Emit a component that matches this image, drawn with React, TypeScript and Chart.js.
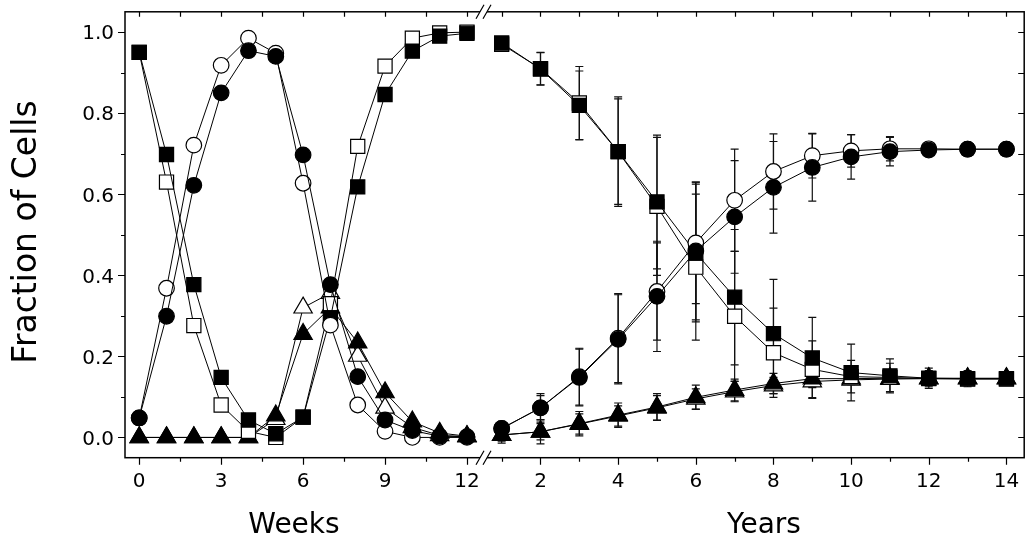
import { useEffect, useRef } from 'react';
import { Chart, registerables } from 'chart.js';

Chart.register(...registerables);

// ---- categories ----
const WEEKS = [0, 1, 2, 3, 4, 5, 6, 7, 8, 9, 10, 11, 12];
const YEARS = [1, 2, 3, 4, 5, 6, 7, 8, 9, 10, 11, 12, 13, 14];

// ---- series: weeks segment ----
const filledSquareWeeks = [0.95, 0.698, 0.377, 0.148, 0.043, 0.009, 0.05, 0.295, 0.618, 0.846, 0.953, 0.99, 0.997];
const openSquareWeeks = [0.95, 0.63, 0.276, 0.08, 0.015, 0.0, 0.05, 0.33, 0.718, 0.916, 0.985, 0.998, 1.0];
const filledCircleWeeks = [0.048, 0.299, 0.622, 0.85, 0.954, 0.94, 0.697, 0.377, 0.15, 0.043, 0.017, 0.003, 0.002];
const openCircleWeeks = [0.048, 0.368, 0.721, 0.918, 0.985, 0.948, 0.627, 0.277, 0.08, 0.015, 0.0, 0.0, 0.0];
const filledTriangleWeeks = [0, 0, 0, 0, 0, 0.054, 0.255, 0.32, 0.234, 0.111, 0.039, 0.011, 0.003];
const openTriangleWeeks = [0, 0, 0, 0, 0, 0.045, 0.32, 0.356, 0.201, 0.073, 0.025, 0.005, 0.002];

// ---- series: years segment ----
const filledSquareYears = [0.973, 0.909, 0.819, 0.705, 0.581, 0.455, 0.346, 0.256, 0.196, 0.16, 0.152, 0.146, 0.145, 0.145];
const openSquareYears = [0.97, 0.91, 0.825, 0.705, 0.57, 0.42, 0.299, 0.209, 0.168, 0.15, 0.148, 0.145, 0.144, 0.144];
const filledCircleYears = [0.022, 0.073, 0.148, 0.242, 0.348, 0.46, 0.544, 0.617, 0.666, 0.692, 0.705, 0.709, 0.711, 0.711];
const openCircleYears = [0.022, 0.073, 0.15, 0.245, 0.36, 0.48, 0.585, 0.656, 0.695, 0.707, 0.712, 0.712, 0.711, 0.711];
const filledTriangleYears = [0.006, 0.014, 0.034, 0.055, 0.075, 0.099, 0.117, 0.133, 0.145, 0.145, 0.146, 0.146, 0.146, 0.146];
const openTriangleYears = [0.006, 0.014, 0.033, 0.053, 0.073, 0.095, 0.113, 0.128, 0.138, 0.142, 0.144, 0.145, 0.145, 0.145];

// ---- error bars (years segment) ----
const filledSquareErr = [0.01, 0.04, 0.085, 0.135, 0.165, 0.17, 0.167, 0.134, 0.1, 0.07, 0.042, 0.025, 0.02, 0.01];
const openSquareErr = [0.01, 0.04, 0.09, 0.13, 0.17, 0.18, 0.16, 0.11, 0.07, 0.04, 0.035, 0.02, 0.015, 0.01];
const filledCircleErr = [0.01, 0.035, 0.07, 0.11, 0.136, 0.17, 0.139, 0.113, 0.083, 0.055, 0.035, 0.01, 0.005, 0.005];
const openCircleErr = [0.01, 0.03, 0.07, 0.11, 0.12, 0.15, 0.126, 0.093, 0.055, 0.04, 0.03, 0.01, 0.005, 0.005];
const filledTriangleErr = [0.02, 0.03, 0.03, 0.03, 0.033, 0.03, 0.027, 0.025, 0.02, 0.015, 0.01, 0.01, 0.008, 0.005];
const openTriangleErr = [0.015, 0.02, 0.025, 0.025, 0.03, 0.025, 0.025, 0.02, 0.015, 0.01, 0.01, 0.008, 0.005, 0.005];

// ---- ticks ----
const weekTicks = [0, 1.5, 3, 4.5, 6, 7.5, 9, 10.5, 12];
const weekLabels = [0, 3, 6, 9, 12];
const yearTicks = [1, 2, 3, 4, 5, 6, 7, 8, 9, 10, 11, 12, 13, 14];
const yearLabels = [2, 4, 6, 8, 10, 12, 14];
const yTicks = [0, 0.1, 0.2, 0.3, 0.4, 0.5, 0.6, 0.7, 0.8, 0.9, 1.0];
const yLabels = [0, 0.2, 0.4, 0.6, 0.8, 1.0];

// broken axis: years segment placed after the weeks segment
const YEAR_START = 13.27;
const YEAR_STEP = 1.4215;
const BREAK_X = 12.66;
const yearToX = (yr: number) => YEAR_START + (yr - 1) * YEAR_STEP;

const FONT = '"DejaVu Sans", Verdana, sans-serif';

type Series = {
  weeks: number[];
  years: number[];
  err: number[];
  style: 'rect' | 'circle' | 'triangle';
  filled: boolean;
  order: number;
};

const SERIES: Series[] = [
  { weeks: filledCircleWeeks, years: filledCircleYears, err: filledCircleErr, style: 'circle', filled: true, order: 0 },
  { weeks: openCircleWeeks, years: openCircleYears, err: openCircleErr, style: 'circle', filled: false, order: 1 },
  { weeks: filledSquareWeeks, years: filledSquareYears, err: filledSquareErr, style: 'rect', filled: true, order: 2 },
  { weeks: openSquareWeeks, years: openSquareYears, err: openSquareErr, style: 'rect', filled: false, order: 3 },
  { weeks: filledTriangleWeeks, years: filledTriangleYears, err: filledTriangleErr, style: 'triangle', filled: true, order: 4 },
  { weeks: openTriangleWeeks, years: openTriangleYears, err: openTriangleErr, style: 'triangle', filled: false, order: 5 },
];

const radiusFor = (s: string) => (s === 'rect' ? 10 : s === 'circle' ? 7.8 : 10.6);

const framePlugin = {
  id: 'framePlugin',
  beforeDatasetsDraw(chart: any) {
    const ctx = chart.ctx;
    const xs = chart.scales.x;
    const ys = chart.scales.y;
    ctx.save();
    ctx.strokeStyle = '#111';
    ctx.lineWidth = 1.2;
    SERIES.forEach((s) => {
      YEARS.forEach((yr, i) => {
        const e = s.err[i];
        if (!e) return;
        const px = xs.getPixelForValue(yearToX(yr));
        const top = ys.getPixelForValue(s.years[i] + e);
        const bot = ys.getPixelForValue(s.years[i] - e);
        ctx.beginPath();
        ctx.moveTo(px, top);
        ctx.lineTo(px, bot);
        ctx.moveTo(px - 4, top);
        ctx.lineTo(px + 4, top);
        ctx.moveTo(px - 4, bot);
        ctx.lineTo(px + 4, bot);
        ctx.stroke();
      });
    });
    ctx.restore();
  },
  afterDraw(chart: any) {
    const ctx = chart.ctx;
    const { left, right, top, bottom } = chart.chartArea;
    const xs = chart.scales.x;
    const ys = chart.scales.y;
    ctx.save();
    ctx.strokeStyle = '#000';
    ctx.fillStyle = '#000';
    ctx.lineWidth = 1.5;
    ctx.strokeRect(left, top, right - left, bottom - top);

    ctx.lineWidth = 1.2;
    // x ticks
    const xTickList: { v: number; major: boolean }[] = [];
    weekTicks.forEach((w) => xTickList.push({ v: w, major: weekLabels.includes(w) }));
    yearTicks.forEach((yr) => xTickList.push({ v: yearToX(yr), major: yearLabels.includes(yr) }));
    xTickList.forEach(({ v, major }) => {
      const px = Math.round(xs.getPixelForValue(v)) + 0.5;
      ctx.beginPath();
      ctx.moveTo(px, bottom);
      ctx.lineTo(px, bottom + (major ? 7 : 4));
      ctx.moveTo(px, top);
      ctx.lineTo(px, top + 5);
      ctx.stroke();
    });
    // y ticks
    yTicks.forEach((v) => {
      const major = yLabels.some((l) => Math.abs(l - v) < 1e-6);
      const py = Math.round(ys.getPixelForValue(v)) + 0.5;
      ctx.beginPath();
      ctx.moveTo(left, py);
      ctx.lineTo(left - (major ? 7 : 4), py);
      ctx.moveTo(right, py);
      ctx.lineTo(right - 6, py);
      ctx.stroke();
    });

    // tick labels
    ctx.font = `20px ${FONT}`;
    ctx.textAlign = 'center';
    ctx.textBaseline = 'alphabetic';
    weekLabels.forEach((w) => {
      ctx.fillText(String(w), xs.getPixelForValue(w), bottom + 29);
    });
    yearLabels.forEach((yr) => {
      ctx.fillText(String(yr), xs.getPixelForValue(yearToX(yr)), bottom + 29);
    });
    ctx.textAlign = 'right';
    yLabels.forEach((v) => {
      ctx.fillText(v.toFixed(1), left - 11, ys.getPixelForValue(v) + 7.3);
    });

    // axis titles
    ctx.font = `28px ${FONT}`;
    ctx.textAlign = 'center';
    ctx.fillText('Weeks', 294, 533);
    ctx.fillText('Years', 764, 533);
    ctx.save();
    ctx.translate(36, 232);
    ctx.rotate(-Math.PI / 2);
    ctx.font = `33px ${FONT}`;
    ctx.fillText('Fraction of Cells', 0, 0);
    ctx.restore();

    // axis break marks
    const bx = xs.getPixelForValue(BREAK_X);
    [top, bottom].forEach((by) => {
      ctx.fillStyle = '#fff';
      ctx.beginPath();
      ctx.moveTo(bx - 9, by + 7);
      ctx.lineTo(bx - 1, by - 7);
      ctx.lineTo(bx + 6, by - 7);
      ctx.lineTo(bx - 2, by + 7);
      ctx.closePath();
      ctx.fill();
      ctx.strokeStyle = '#000';
      ctx.lineWidth = 1.2;
      ctx.beginPath();
      ctx.moveTo(bx - 9, by + 7);
      ctx.lineTo(bx - 1, by - 7);
      ctx.moveTo(bx - 2, by + 7);
      ctx.lineTo(bx + 6, by - 7);
      ctx.stroke();
    });
    ctx.restore();
  },
};

export default function App() {
  const canvasRef = useRef<HTMLCanvasElement | null>(null);

  useEffect(() => {
    if (!canvasRef.current) return;
    const datasets = SERIES.map((s) => {
      const data: { x: number; y: number | null }[] = [];
      WEEKS.forEach((w, i) => data.push({ x: w, y: s.weeks[i] }));
      data.push({ x: BREAK_X, y: null });
      YEARS.forEach((yr, i) => data.push({ x: yearToX(yr), y: s.years[i] }));
      return {
        data,
        order: s.order,
        borderColor: '#000',
        borderWidth: 1,
        pointStyle: s.style,
        pointRadius: radiusFor(s.style),
        pointBorderWidth: 1.2,
        pointBorderColor: '#000',
        pointBackgroundColor: s.filled ? '#000' : '#fff',
        spanGaps: false,
        tension: 0,
        clip: false as any,
      };
    });

    const chart = new Chart(canvasRef.current, {
      type: 'line',
      data: { datasets: datasets as any },
      options: {
        animation: false,
        responsive: false,
        devicePixelRatio: 1,
        layout: { padding: { left: 125, right: 1.7, top: 9.3, bottom: 84.3 } },
        plugins: { legend: { display: false }, tooltip: { enabled: false } },
        events: [],
        scales: {
          x: { type: 'linear', min: -0.52, max: 32.4, display: false },
          y: { type: 'linear', min: -0.05, max: 1.05, display: false },
        },
      },
      plugins: [framePlugin],
    });
    return () => chart.destroy();
  }, []);

  return (
    <div style={{ position: 'fixed', left: 0, top: 0, width: 1036, height: 542, background: '#fff' }}>
      <canvas ref={canvasRef} width={1036} height={542} style={{ width: 1036, height: 542 }} />
    </div>
  );
}
